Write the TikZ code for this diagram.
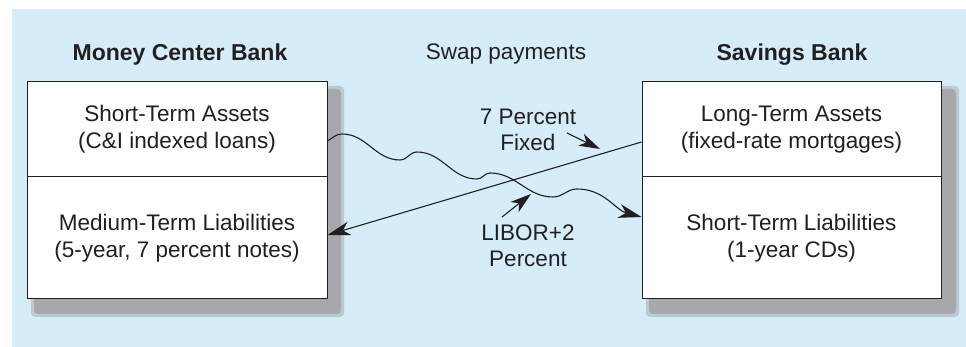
\documentclass[tikz,border=0pt]{standalone}
\usepackage{fontspec}
\setmainfont{Liberation Sans}
\usetikzlibrary{arrows.meta}
\definecolor{bgblue}{RGB}{213,236,249}
\definecolor{shadowgray}{RGB}{166,168,172}
\definecolor{txt}{RGB}{35,31,32}
\tikzset{
  cell/.style={draw=txt, line width=1pt, fill=white, align=center, inner sep=0pt,
    font=\fontsize{22.5}{27}\selectfont, text=txt},
  title/.style={font=\fontsize{23}{27}\selectfont\bfseries, text=txt},
  lbl/.style={font=\fontsize{22.5}{26}\selectfont, text=txt, align=center, inner sep=0pt},
  arr/.style={line width=1.1pt, draw=txt, -{Stealth[length=23pt,width=14pt,inset=7pt]}},
  smallarr/.style={line width=1.1pt, draw=txt, -{Stealth[length=21pt,width=13pt,inset=6pt]}},
  shad/.style={fill=shadowgray, rounded corners=4pt}
}
\begin{document}
\begin{tikzpicture}[x=1pt,y=1pt]
\useasboundingbox (0,0) rectangle (966,347);
\fill[white] (0,0) rectangle (966,347);
\fill[bgblue] (12,0) rectangle (966,338);
% shadows
\fill[shad, opacity=0.5] (31,30) rectangle (344,261);
\fill[shad] (34,33) rectangle (341,258);
\fill[shad, opacity=0.5] (646,30) rectangle (959,261);
\fill[shad] (649,33) rectangle (956,258);
% titles
\node[title] (tl) at (180,292) {Money Center Bank};
\node[title] (tr) at (792,292) {Savings Bank};
\node[font=\fontsize{22.5}{27}\selectfont, text=txt] (tm) at (506,293) {Swap payments};
% boxes
\node[cell, minimum width=300pt, minimum height=95pt] (lt) at (177,217.5) {Short-Term Assets\\(C\&I indexed loans)};
\node[cell, minimum width=300pt, minimum height=122pt] (lb) at (177,109) {Medium-Term Liabilities\\(5-year, 7 percent notes)};
\node[cell, minimum width=299pt, minimum height=95pt] (rt) at (791.5,217.5) {Long-Term Assets\\(fixed-rate mortgages)};
\node[cell, minimum width=299pt, minimum height=122pt] (rb) at (791.5,109) {Short-Term Liabilities\\(1-year CDs)};
% straight connector
\coordinate (s1) at (rt.west |- 0,205);
\coordinate (e1) at (lb.east |- 0,112);
\draw[arr] (s1) -- (e1);
% wavy connector
\coordinate (w0) at (lt.east |- 0,206);
\coordinate (w1) at (342,213);
\coordinate (w2) at (400,187);
\coordinate (w3) at (417,195);
\coordinate (w4) at (477,168);
\coordinate (w5) at (490,174);
\coordinate (w6) at (553,150);
\coordinate (w7) at (577,158);
\coordinate (w8) at (rb.west |- 0,130);
\draw[arr] (w0) to[out=30,in=180] (w1) to[out=0,in=180] (w2) to[out=0,in=180] (w3)
  to[out=0,in=180] (w4) to[out=0,in=180] (w5) to[out=0,in=180] (w6)
  to[out=0,in=180] (w7) to[out=0,in=165] (w8);
% labels
\node[lbl] (fx) at (528,217.5) {7 Percent\\Fixed};
\node[lbl] (lib) at (528,101) {LIBOR+2\\Percent};
\coordinate (fa0) at (567,214);
\coordinate (fa1) at (600,198);
\draw[smallarr] (fa0) -- (fa1);
\coordinate (la0) at (502,130);
\coordinate (la1) at (531,153);
\draw[smallarr] (la0) -- (la1);
\end{tikzpicture}
\end{document}
